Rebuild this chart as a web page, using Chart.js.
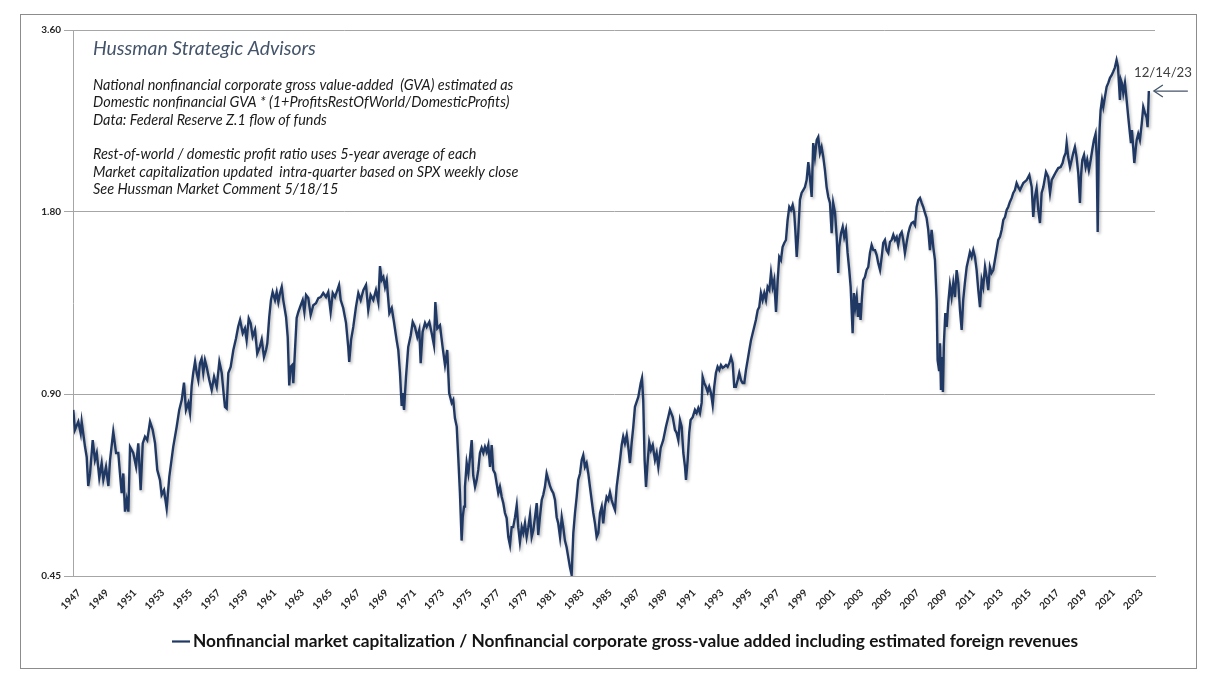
<!DOCTYPE html>
<html lang="en">
<head>
<meta charset="UTF-8">
<title>Nonfinancial market cap / GVA</title>
<script src="https://cdn.jsdelivr.net/npm/chart.js"></script>
<style>
    html, body { margin: 0; padding: 0; background: #fff; }
</style>
</head>
<body>
<canvas id="grafico" width="1207" height="678"></canvas>

<script>
    // decimal year of each reading
    var anos = [
        1947.02, 1947.14, 1947.38, 1947.55, 1947.62, 1947.86, 1947.98, 1948.09, 1948.22, 1948.41, 1948.57, 1948.70, 1948.88,
        1949.05, 1949.17, 1949.36, 1949.53, 1949.65, 1949.88, 1950.08, 1950.24, 1950.36, 1950.48, 1950.60, 1950.72, 1950.84,
        1950.96, 1951.08, 1951.31, 1951.51, 1951.67, 1951.84, 1951.99, 1952.15, 1952.31, 1952.51, 1952.70, 1952.87, 1953.03,
        1953.22, 1953.34, 1953.51, 1953.70, 1953.89, 1954.17, 1954.42, 1954.60, 1954.78, 1954.94, 1955.08, 1955.25, 1955.37,
        1955.49, 1955.60, 1955.73, 1955.85, 1955.96, 1956.08, 1956.20, 1956.32, 1956.44, 1956.56, 1956.75, 1956.92, 1957.09,
        1957.28, 1957.47, 1957.64, 1957.75, 1957.87, 1957.99, 1958.11, 1958.28, 1958.47, 1958.66, 1958.82, 1958.95, 1959.14,
        1959.30, 1959.42, 1959.57, 1959.71, 1959.85, 1960.02, 1960.18, 1960.37,
        1960.50, 1960.66, 1960.81, 1960.90, 1961.04, 1961.16, 1961.28, 1961.45, 1961.57, 1961.69, 1961.81, 1961.93, 1962.04,
        1962.24, 1962.36, 1962.47, 1962.57, 1962.69, 1962.76, 1962.88, 1963.00, 1963.12, 1963.29, 1963.43, 1963.55, 1963.67,
        1963.83, 1964.00, 1964.19, 1964.38, 1964.55, 1964.72, 1964.90, 1965.10, 1965.26, 1965.43, 1965.58, 1965.74, 1965.91,
        1966.03, 1966.15, 1966.33, 1966.53, 1966.69, 1966.76, 1966.89, 1967.05, 1967.24, 1967.41, 1967.58, 1967.77, 1967.96,
        1968.12, 1968.29, 1968.48, 1968.67, 1968.84, 1968.96, 1969.08, 1969.20, 1969.32, 1969.44, 1969.63, 1969.80, 1969.96,
        1970.15, 1970.27, 1970.39, 1970.51, 1970.58, 1970.68, 1970.82, 1970.98, 1971.16, 1971.30, 1971.46, 1971.63, 1971.77,
        1971.87, 1972.01, 1972.18, 1972.30, 1972.49, 1972.66, 1972.82, 1972.92, 1973.06, 1973.25, 1973.44, 1973.61, 1973.77,
        1973.91,
        1974.09, 1974.20, 1974.32, 1974.45, 1974.56, 1974.68, 1974.80, 1974.88, 1974.97, 1975.04, 1975.16, 1975.28, 1975.40,
        1975.52, 1975.63, 1975.76, 1975.88, 1975.99, 1976.11, 1976.23, 1976.35, 1976.47, 1976.59, 1976.71, 1976.83, 1976.95,
        1977.06, 1977.19, 1977.31, 1977.42, 1977.54, 1977.67, 1977.78, 1977.90, 1978.02, 1978.14, 1978.26, 1978.38, 1978.49,
        1978.62, 1978.74, 1978.85, 1978.97, 1979.10, 1979.21, 1979.33, 1979.45, 1979.57, 1979.69, 1979.81, 1979.93, 1980.05,
        1980.17, 1980.28, 1980.40, 1980.53, 1980.64, 1980.76, 1980.88, 1981.00, 1981.12, 1981.24, 1981.36, 1981.48, 1981.60,
        1981.71, 1981.84, 1981.96, 1982.07, 1982.19, 1982.31, 1982.43, 1982.55, 1982.67, 1982.79, 1982.91, 1983.03, 1983.14,
        1983.27, 1983.39, 1983.50, 1983.62, 1983.74, 1983.86, 1983.98, 1984.10, 1984.22, 1984.34, 1984.46, 1984.58, 1984.70,
        1984.82, 1984.93, 1985.05, 1985.17, 1985.29, 1985.41, 1985.53, 1985.65, 1985.77, 1985.89, 1986.01, 1986.13, 1986.25,
        1986.36, 1986.48, 1986.61, 1986.72, 1986.84, 1986.96, 1987.08, 1987.20,
        1987.44, 1987.61, 1987.70, 1987.79, 1987.89, 1987.99, 1988.08, 1988.22, 1988.34, 1988.47, 1988.63, 1988.75, 1988.87,
        1989.04, 1989.22, 1989.42, 1989.58, 1989.70, 1989.90, 1990.06, 1990.18, 1990.30, 1990.42, 1990.54, 1990.66, 1990.78,
        1990.85, 1990.97, 1991.08, 1991.18, 1991.33, 1991.49, 1991.61, 1991.73, 1991.85, 1991.97, 1992.04, 1992.16, 1992.28,
        1992.40, 1992.51, 1992.64, 1992.76, 1992.87, 1992.99, 1993.11, 1993.23, 1993.35, 1993.47, 1993.59, 1993.71, 1993.83,
        1993.95, 1994.07, 1994.19, 1994.30, 1994.42, 1994.55, 1994.66, 1994.78, 1994.90, 1995.02, 1995.14, 1995.26, 1995.38,
        1995.50, 1995.62, 1995.73, 1995.85, 1995.98, 1996.09, 1996.21, 1996.33, 1996.45, 1996.57, 1996.69, 1996.81, 1996.93,
        1997.05, 1997.16, 1997.29, 1997.41, 1997.52, 1997.64, 1997.76, 1997.88, 1998.00, 1998.12, 1998.24, 1998.36, 1998.48,
        1998.59, 1998.67, 1998.77, 1998.88, 1999.00, 1999.12, 1999.24, 1999.36, 1999.48, 1999.60, 1999.72, 1999.84, 1999.95,
        2000.07, 2000.20, 2000.31, 2000.43, 2000.55, 2000.67, 2000.79, 2000.91, 2001.03,
        2001.15, 2001.27, 2001.38, 2001.51, 2001.63, 2001.74, 2001.81, 2001.94, 2002.06, 2002.17, 2002.29, 2002.41, 2002.53,
        2002.63, 2002.70, 2002.77, 2002.86, 2002.96, 2003.06, 2003.15, 2003.24, 2003.34, 2003.44, 2003.53, 2003.65, 2003.77,
        2003.89, 2004.01, 2004.13, 2004.25, 2004.37, 2004.49, 2004.60, 2004.73, 2004.85, 2004.96, 2005.08, 2005.20, 2005.32,
        2005.44, 2005.56, 2005.68, 2005.80, 2005.92, 2006.03, 2006.16, 2006.28, 2006.39, 2006.51, 2006.63, 2006.75, 2006.87,
        2006.99, 2007.11, 2007.23, 2007.35, 2007.47, 2007.59, 2007.71, 2007.82, 2007.94, 2008.06, 2008.18, 2008.30, 2008.42,
        2008.54, 2008.66, 2008.78, 2008.85, 2008.95, 2009.02, 2009.09, 2009.16, 2009.23, 2009.30, 2009.40, 2009.50, 2009.61,
        2009.73, 2009.85, 2009.97, 2010.09, 2010.21, 2010.33, 2010.45, 2010.57, 2010.68, 2010.80, 2010.93, 2011.04, 2011.16,
        2011.28, 2011.40, 2011.52, 2011.64, 2011.76, 2011.88, 2012.00, 2012.11, 2012.24, 2012.36, 2012.47, 2012.59, 2012.71,
        2012.83, 2012.95, 2013.07, 2013.19, 2013.31, 2013.43, 2013.55, 2013.67, 2013.79, 2013.90, 2014.02, 2014.15, 2014.26,
        2014.38, 2014.50, 2014.62, 2014.74,
        2014.98, 2015.22, 2015.41, 2015.58, 2015.69, 2015.81, 2015.93, 2016.05, 2016.17, 2016.29, 2016.41, 2016.60, 2016.76,
        2016.89, 2017.01, 2017.12, 2017.31, 2017.48, 2017.65, 2017.79, 2017.89, 2018.01, 2018.08, 2018.19, 2018.32, 2018.44,
        2018.55, 2018.67, 2018.79, 2018.91, 2019.03, 2019.10, 2019.20, 2019.32, 2019.44, 2019.55, 2019.67, 2019.80, 2019.91,
        2020.03, 2020.15, 2020.23, 2020.30, 2020.37, 2020.44, 2020.51, 2020.61, 2020.70, 2020.82, 2020.94, 2021.06, 2021.18,
        2021.30, 2021.41, 2021.53, 2021.65, 2021.75, 2021.82, 2021.89, 2021.96, 2022.03, 2022.13, 2022.25, 2022.37, 2022.49,
        2022.61, 2022.68, 2022.75, 2022.84, 2022.92, 2023.01, 2023.09, 2023.20, 2023.32, 2023.45, 2023.56, 2023.68, 2023.80,
        2023.87, 2023.96
    ];

    // market cap / GVA ratio at each of those dates
    var razao = [
        0.847, 0.785, 0.81, 0.775, 0.81, 0.736, 0.708, 0.634, 0.665, 0.755, 0.70, 0.719, 0.654,
        0.692, 0.649, 0.682, 0.634, 0.70, 0.78, 0.719, 0.719, 0.665, 0.617, 0.665, 0.575, 0.601,
        0.575, 0.736, 0.719, 0.683, 0.746, 0.624, 0.746, 0.765, 0.755, 0.81, 0.785, 0.746, 0.674,
        0.649, 0.613, 0.624, 0.582, 0.657, 0.736, 0.795, 0.847, 0.88, 0.94, 0.847, 0.87, 0.837,
        0.928, 0.975, 1.018, 0.975, 0.949, 1.012, 1.03, 0.975, 1.024, 0.998, 0.949, 0.914, 0.961,
        0.925, 1.018, 0.975, 0.914, 0.857, 0.852, 0.975, 0.998, 1.064, 1.112, 1.164, 1.193, 1.134,
        1.156, 1.105, 1.2, 1.178, 1.12, 1.149, 1.05, 1.078,
        1.108, 1.036, 1.064, 1.092, 1.207, 1.287, 1.327, 1.287, 1.327, 1.277, 1.322, 1.353, 1.287,
        1.207, 1.118, 0.93, 0.998, 1.005, 0.938, 1.064, 1.202, 1.23, 1.262, 1.287, 1.23, 1.312,
        1.297, 1.216, 1.262, 1.272, 1.297, 1.302, 1.322, 1.302, 1.327, 1.23, 1.322, 1.302, 1.337,
        1.363, 1.287, 1.249, 1.18, 1.076, 1.017, 1.105, 1.162, 1.253, 1.322, 1.287, 1.337, 1.363,
        1.239, 1.312, 1.287, 1.337, 1.277, 1.465, 1.389, 1.405, 1.353, 1.389, 1.225, 1.249, 1.184,
        1.105, 1.064, 0.976, 0.86, 0.903, 0.847, 0.96, 1.076, 1.126, 1.184, 1.162, 1.118, 1.149,
        1.012, 1.14, 1.18, 1.162, 1.184, 1.134, 1.084, 1.277, 1.156, 1.169, 1.076, 1.005, 1.064,
        0.903,
        0.87, 0.88, 0.821, 0.795, 0.707, 0.617, 0.515, 0.563, 0.586, 0.632, 0.692, 0.665, 0.707,
        0.755, 0.66, 0.632, 0.649, 0.674, 0.719, 0.733, 0.719, 0.736, 0.722, 0.741, 0.682, 0.741,
        0.674, 0.665, 0.639, 0.617, 0.632, 0.608, 0.594, 0.572, 0.561, 0.522, 0.506, 0.542, 0.542,
        0.563, 0.589, 0.542, 0.512, 0.542, 0.53, 0.55, 0.522, 0.542, 0.568, 0.522, 0.536, 0.563,
        0.594, 0.526, 0.563, 0.601, 0.613, 0.632, 0.665, 0.649, 0.634, 0.624, 0.617, 0.601, 0.563,
        0.55, 0.522, 0.563, 0.542, 0.515, 0.502, 0.483, 0.465, 0.452, 0.53, 0.572, 0.608, 0.649,
        0.665, 0.70, 0.713, 0.682, 0.692, 0.665, 0.632, 0.601, 0.572, 0.55, 0.522, 0.53, 0.572,
        0.586, 0.55, 0.586, 0.608, 0.601, 0.619, 0.601, 0.589, 0.579, 0.632, 0.665, 0.70, 0.741,
        0.765, 0.746, 0.77, 0.736, 0.692, 0.746, 0.795, 0.857,
        0.89, 0.938, 0.956, 0.88, 0.70, 0.632, 0.682, 0.749, 0.727, 0.741, 0.70, 0.719, 0.682,
        0.733, 0.755, 0.795, 0.824, 0.847, 0.824, 0.785, 0.776, 0.755, 0.815, 0.795, 0.719, 0.682,
        0.649, 0.70, 0.776, 0.815, 0.824, 0.847, 0.837, 0.853, 0.837, 0.87, 0.96, 0.938, 0.925,
        0.907, 0.925, 0.903, 0.863, 0.925, 0.975, 0.998, 0.986, 1.005, 0.994, 0.998, 1.005, 0.998,
        1.012, 1.036, 1.012, 0.925, 0.925, 0.949, 0.975, 0.949, 0.938, 0.938, 0.986, 1.024, 1.064,
        1.105, 1.134, 1.162, 1.193, 1.239, 1.253, 1.322, 1.287, 1.322, 1.287, 1.353, 1.337, 1.427,
        1.353, 1.389, 1.23, 1.389, 1.517, 1.499, 1.575, 1.6, 1.618, 1.746, 1.835, 1.814, 1.849,
        1.795, 1.681, 1.517, 1.66, 1.884, 1.935, 1.957, 1.979, 2.033, 2.177, 2.048, 1.906, 2.34,
        2.22, 2.368, 2.396, 2.253, 2.305, 2.22, 2.112, 1.979, 1.906,
        1.863, 1.66, 1.863, 1.795, 1.637, 1.427, 1.575, 1.66, 1.701, 1.637, 1.681, 1.54, 1.443,
        1.353, 1.239, 1.134, 1.322, 1.253, 1.302, 1.207, 1.272, 1.193, 1.302, 1.389, 1.405, 1.443,
        1.46, 1.54, 1.587, 1.557, 1.557, 1.528, 1.482, 1.443, 1.517, 1.6, 1.618, 1.557, 1.54,
        1.606, 1.618, 1.65, 1.618, 1.637, 1.587, 1.65, 1.668, 1.618, 1.54, 1.6, 1.66, 1.701,
        1.726, 1.733, 1.713, 1.835, 1.884, 1.899, 1.863, 1.835, 1.795, 1.76, 1.681, 1.557, 1.681,
        1.575, 1.499, 1.287, 1.024, 0.986, 1.092, 0.914, 1.036, 0.907, 1.092, 1.225, 1.162, 1.272,
        1.363, 1.302, 1.374, 1.302, 1.443, 1.374, 1.239, 1.149, 1.287, 1.374, 1.46, 1.499, 1.545,
        1.517, 1.557, 1.517, 1.443, 1.337, 1.253, 1.389, 1.353, 1.46, 1.405, 1.337, 1.46, 1.427,
        1.443, 1.499, 1.557, 1.618, 1.637, 1.681, 1.746, 1.766, 1.814, 1.835, 1.87, 1.899, 1.935,
        1.957, 2.01, 1.979, 1.957,
        2.01, 2.033, 2.072, 1.979, 1.766, 1.906, 1.971, 1.814, 1.726, 1.935, 1.979, 2.096, 2.056,
        1.935, 2.033, 2.056, 2.096, 2.128, 2.136, 2.169, 2.219, 2.253, 2.34, 2.219, 2.136, 2.194,
        2.253, 2.305, 2.219, 2.088, 1.863, 2.056, 2.194, 2.236, 2.136, 2.194, 2.112, 2.194, 2.279,
        2.368, 2.424, 2.219, 1.668, 2.219, 2.48, 2.654, 2.758, 2.685, 2.79, 2.899, 2.943, 3.0,
        3.03, 3.07, 3.12, 3.21, 3.13, 2.943, 2.758, 2.976, 2.943, 2.83, 2.943, 2.758, 2.58,
        2.424, 2.34, 2.46, 2.305, 2.169, 2.279, 2.368, 2.424, 2.368, 2.518, 2.685, 2.625, 2.58,
        2.487, 2.853
    ];

    var yTicks = [0.45, 0.90, 1.80, 3.60];
    var xTicks = [];
    for (let a = 1947; a <= 2023; a += 2) xTicks.push(a);

    var titulo = "Hussman Strategic Advisors";
    var notas = [
        "National nonfinancial corporate gross value-added  (GVA) estimated as",
        "Domestic nonfinancial GVA * (1+ProfitsRestOfWorld/DomesticProfits)",
        "Data: Federal Reserve Z.1 flow of funds",
        "",
        "Rest-of-world / domestic profit ratio uses 5-year average of each",
        "Market capitalization updated  intra-quarter based on SPX weekly close",
        "See Hussman Market Comment 5/18/15"
    ];
    var dataFinal = "12/14/23";
    var legenda = "Nonfinancial market capitalization / Nonfinancial corporate gross-value added including estimated foreign revenues";

    var corLinha = '#203864';
    var fonte = 'Lato, "Open Sans", sans-serif';

    // shrink/grow a font so a string takes a given width
    function ajustaFonte(c, texto, estilo, largura, base) {
        c.font = estilo + ' ' + base + 'px ' + fonte;
        var w = c.measureText(texto).width;
        return base * largura / w;
    }

    // white page + grey frame
    const fundo = {
        id: 'fundo',
        beforeDraw(chart) {
            const c = chart.ctx;
            c.save();
            c.fillStyle = '#fff';
            c.fillRect(0, 0, chart.width, chart.height);
            c.strokeStyle = '#8c8c8c';
            c.lineWidth = 1;
            c.strokeRect(20.5, 14.5, 1176, 654);
            c.restore();
        }
    };

    // soft drop shadow under the line, like the excel original
    const sombra = {
        id: 'sombra',
        beforeDatasetsDraw(chart) {
            const c = chart.ctx;
            c.save();
            c.shadowColor = 'rgba(0,0,0,0.28)';
            c.shadowBlur = 3;
            c.shadowOffsetX = 1.5;
            c.shadowOffsetY = 2;
        },
        afterDatasetsDraw(chart) {
            chart.ctx.restore();
        }
    };

    // notes, end-date arrow and legend
    const textos = {
        id: 'textos',
        afterDraw(chart) {
            const c = chart.ctx;
            const xs = chart.scales.x, ys = chart.scales.y;
            c.save();
            c.textBaseline = 'alphabetic';
            c.textAlign = 'left';

            let tam = ajustaFonte(c, titulo, 'italic', 223, 18);
            c.font = 'italic ' + tam + 'px ' + fonte;
            c.fillStyle = '#44546a';
            c.fillText(titulo, 93, 55);

            tam = ajustaFonte(c, notas[0], 'italic', 421, 13);
            c.font = 'italic ' + tam + 'px ' + fonte;
            c.fillStyle = '#1a1a1a';
            notas.forEach((linha, i) => {
                if (linha) c.fillText(linha, 93, 90 + i * 17.3);
            });

            // end date + arrow pointing at the last reading
            const n = anos.length - 1;
            const px = xs.getPixelForValue(anos[n]);
            const py = ys.getPixelForValue(razao[n]);
            tam = ajustaFonte(c, dataFinal, 'normal', 58, 14);
            c.font = tam + 'px ' + fonte;
            c.fillStyle = '#404040';
            c.fillText(dataFinal, 1134, 77);

            c.strokeStyle = '#44546a';
            c.fillStyle = '#44546a';
            c.lineWidth = 1.3;
            c.beginPath();
            c.moveTo(px + 39, py);
            c.lineTo(px + 6, py);
            c.stroke();
            c.beginPath();
            c.moveTo(px + 14, py - 6);
            c.lineTo(px + 5, py);
            c.lineTo(px + 14, py + 6);
            c.stroke();

            // legend
            c.strokeStyle = corLinha;
            c.lineWidth = 2.2;
            c.beginPath();
            c.moveTo(172, 641.5);
            c.lineTo(190, 641.5);
            c.stroke();
            tam = ajustaFonte(c, legenda, 'bold', 886, 16);
            c.font = 'bold ' + tam + 'px ' + fonte;
            c.fillStyle = '#141414';
            c.textBaseline = 'middle';
            c.fillText(legenda, 193, 641);
            c.restore();
        }
    };

    const ctx = document.getElementById('grafico').getContext('2d');
    const grafico = new Chart(ctx, {
        type: 'line',
        data: {
            datasets: [{
                label: legenda,
                data: anos.map((a, i) => ({ x: a, y: razao[i] })),
                borderColor: corLinha,
                borderWidth: 2.4,
                pointRadius: 0,
                tension: 0,
                fill: false
            }]
        },
        options: {
            responsive: false,
            animation: false,
            layout: { padding: { left: 0, right: 52, top: 30, bottom: 0 } },
            scales: {
                x: {
                    type: 'linear',
                    min: 1947,
                    max: 2024.4,
                    afterBuildTicks: s => { s.ticks = xTicks.map(v => ({ value: v })); },
                    afterFit: s => { s.height = 102; },
                    grid: { display: false },
                    border: { color: '#a6a6a6' },
                    ticks: {
                        autoSkip: false,
                        minRotation: 45,
                        maxRotation: 45,
                        padding: 3,
                        labelOffset: 6,
                        color: '#262626',
                        font: { family: fonte, size: 10, weight: 'bold' },
                        callback: v => String(v)
                    }
                },
                y: {
                    type: 'logarithmic',
                    min: 0.45,
                    max: 3.6,
                    afterBuildTicks: s => { s.ticks = yTicks.map(v => ({ value: v })); },
                    afterFit: s => { s.width = 73; },
                    grid: { color: '#a6a6a6', tickLength: 9 },
                    border: { color: '#a6a6a6' },
                    ticks: {
                        color: '#262626',
                        padding: 3,
                        font: { family: fonte, size: 10, weight: 'bold' },
                        callback: v => Number(v).toFixed(2)
                    }
                }
            },
            plugins: {
                legend: { display: false },
                tooltip: { enabled: false }
            }
        },
        plugins: [fundo, sombra, textos]
    });
</script>
</body>
</html>
